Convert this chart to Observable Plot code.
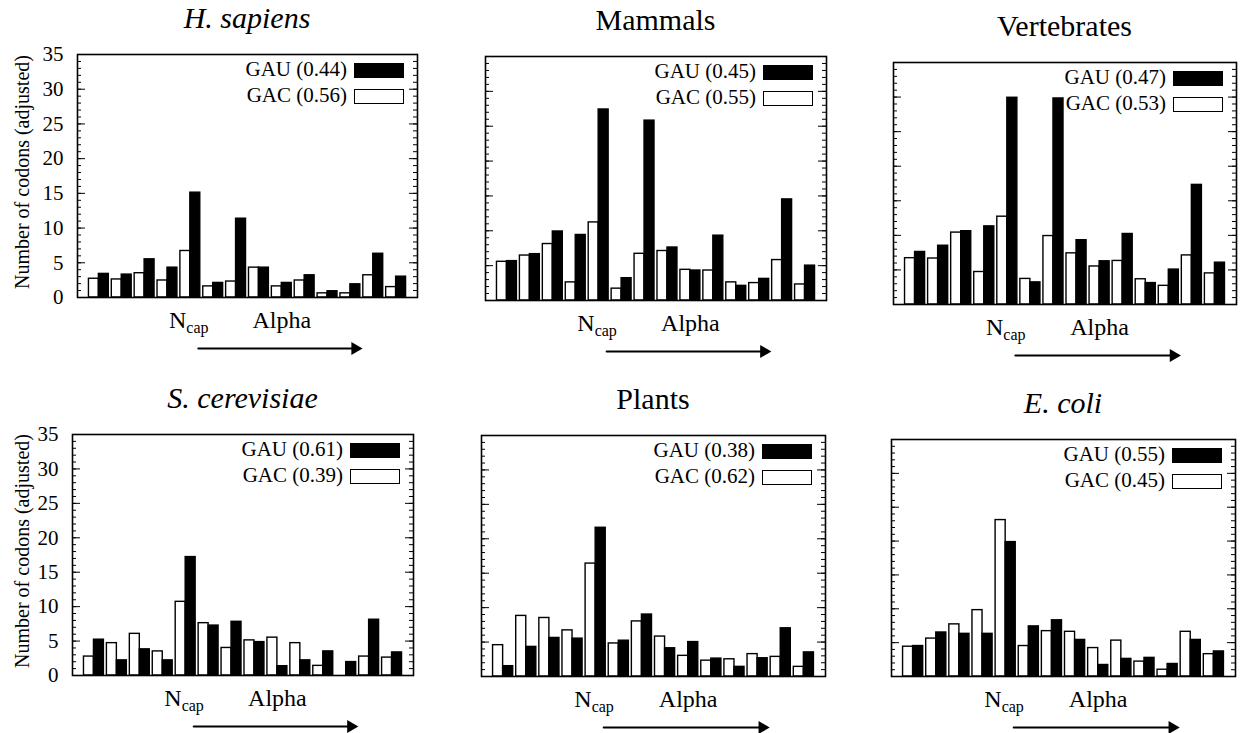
<!DOCTYPE html>
<html><head><meta charset="utf-8">
<script src="https://cdn.jsdelivr.net/npm/d3@7"></script>
<script src="https://cdn.jsdelivr.net/npm/@observablehq/plot@0.6"></script>
<style>
body{margin:0;background:#fff;}
#wrap{position:relative;width:1248px;height:733px;overflow:hidden;color:#000;background:#fff;}
#wrap, #wrap *{font-family:"Liberation Serif","Times New Roman",serif !important;}
#wrap svg{position:absolute;overflow:visible;background:transparent;}
.t{position:absolute;white-space:nowrap;line-height:1;}
.box{position:absolute;box-sizing:border-box;border:1.5px solid #000;}
</style></head>
<body><div id="wrap"></div>
<script>
// ---- data ----
const positions = d3.range(1, 15);
const titles = ["H. sapiens", "Mammals", "Vertebrates", "S. cerevisiae", "Plants", "E. coli"];
const italicTitle = [true, false, false, true, false, true];
const gauShare = ["0.44", "0.45", "0.47", "0.61", "0.38", "0.55"];
const gacShare = ["0.56", "0.55", "0.53", "0.39", "0.62", "0.45"];
const yTicks = [0, 5, 10, 15, 20, 25, 30, 35];
const yLabel = "Number of codons (adjusted)";
const ncapPos = 5, alphaPos = 9, arrowFrom = 5, arrowTo = 12;

const gacHS = [2.7, 2.6, 3.5, 2.45, 6.7, 1.6, 2.3, 4.3, 1.6, 2.45, 0.6, 0.6, 3.2, 1.5];
const gauHS = [3.4, 3.3, 5.5, 4.3, 15.1, 2.1, 11.35, 4.3, 2.1, 3.2, 0.9, 1.9, 6.3, 3.0];
const gacMam = [5.55, 6.45, 8.1, 2.6, 11.2, 1.7, 6.7, 7.1, 4.4, 4.3, 2.6, 2.5, 5.8, 2.3];
const gauMam = [5.65, 6.65, 9.9, 9.4, 27.4, 3.2, 25.8, 7.6, 4.3, 9.3, 2.1, 3.1, 14.5, 5.0];
const gacVert = [6.7, 6.65, 10.4, 4.7, 12.7, 3.7, 9.9, 7.4, 5.5, 6.3, 3.65, 2.7, 7.1, 4.5];
const gauVert = [7.6, 8.5, 10.6, 11.3, 29.9, 3.2, 29.8, 9.3, 6.25, 10.2, 3.1, 5.05, 17.3, 6.05];
const gacSC = [2.75, 4.7, 6.05, 3.5, 10.7, 7.6, 4.0, 5.1, 5.5, 4.7, 1.4, 0, 2.75, 2.6];
const gauSC = [5.2, 2.2, 3.8, 2.2, 17.2, 7.25, 7.8, 4.85, 1.35, 2.2, 3.5, 1.95, 8.1, 3.35];
const gacPl = [4.55, 8.8, 8.5, 6.7, 16.4, 4.8, 8.0, 5.8, 3.0, 2.3, 2.5, 3.25, 2.85, 1.4];
const gauPl = [1.5, 4.3, 5.6, 5.5, 21.6, 5.2, 9.0, 4.1, 5.0, 2.6, 1.4, 2.65, 7.0, 3.5];
const gacEc = [4.4, 5.6, 7.7, 9.8, 23.1, 4.5, 6.7, 6.6, 4.2, 5.3, 2.2, 1.0, 6.6, 3.3];
const gauEc = [4.5, 6.5, 6.3, 6.3, 19.85, 7.4, 8.3, 5.4, 1.7, 2.6, 2.75, 1.85, 5.4, 3.7];

const gacAll = [gacHS, gacMam, gacVert, gacSC, gacPl, gacEc];
const gauAll = [gauHS, gauMam, gauVert, gauSC, gauPl, gauEc];

// ---- layout (frame boxes: left, top, right, bottom) ----
const frames = [
  [77, 54, 417, 297], [485, 56, 826, 300], [893, 62, 1236, 304],
  [72, 434, 413, 675], [481, 435, 825, 676], [891, 439, 1235, 676]
];
const FONT = '"Liberation Serif", "Times New Roman", serif';
const wrap = document.getElementById("wrap");

function addText(str, x, baseline, size, anchor, italic) {
  const d = document.createElement("div");
  d.className = "t";
  d.textContent = str;
  d.style.fontFamily = FONT;
  d.style.fontSize = size + "px";
  d.style.fontStyle = italic ? "italic" : "normal";
  const asc = (size - size * 1.107) / 2 + size * 0.891;
  d.style.top = (baseline - asc) + "px";
  wrap.appendChild(d);
  const w = d.getBoundingClientRect().width;
  d.style.left = (anchor === "middle" ? x - w / 2 : anchor === "end" ? x - w : x) + "px";
  return d;
}

const minor = d3.range(0, 36);
const major = yTicks;
const PAD_IN = 0.13, PAD_OUT = 0.5;

frames.forEach(([L, T, R, B], i) => {
  const fw = R - L, fh = B - T;
  const mL = 70, mR = 14, mT = 14, mB = 74;
  const step = fw / (positions.length - PAD_IN + 2 * PAD_OUT);
  const half = step * (1 - PAD_IN) / 2;
  const data = positions.map((p, j) => ({pos: p, gac: gacAll[i][j], gau: gauAll[i][j]}));
  const left = i % 3 === 0;
  const marks = [
    Plot.barY(data, {x: "pos", y: "gac", fill: "white", stroke: "black", strokeWidth: 1.4, insetRight: half}),
    Plot.barY(data, {x: "pos", y: "gau", fill: "black", stroke: "black", strokeWidth: 1.4, insetLeft: half}),
    Plot.tickY(minor, {y: d => d, insetRight: fw - 4, stroke: "black", strokeWidth: 1}),
    Plot.tickY(major, {y: d => d, insetRight: fw - 8, stroke: "black", strokeWidth: 1}),
    Plot.tickY(minor, {y: d => d, insetLeft: fw - 4, stroke: "black", strokeWidth: 1}),
    Plot.tickY(major, {y: d => d, insetLeft: fw - 8, stroke: "black", strokeWidth: 1}),
    Plot.frame({stroke: "black", strokeWidth: 1.6}),
    Plot.text([ncapPos], {x: d => d, text: () => "N", frameAnchor: "bottom", lineAnchor: "bottom", dy: 30, dx: -4, textAnchor: "end", fontSize: 24, fill: "black"}),
    Plot.text([ncapPos], {x: d => d, text: () => "cap", frameAnchor: "bottom", lineAnchor: "bottom", dy: 35, dx: -4, textAnchor: "start", fontSize: 16, fill: "black"}),
    Plot.text([alphaPos], {x: d => d, text: () => "Alpha", frameAnchor: "bottom", lineAnchor: "bottom", dy: 30, textAnchor: "middle", fontSize: 24, fill: "black"}),
    Plot.arrow([{a: arrowFrom, b: arrowTo}], {x1: "a", x2: "b", y1: () => 0, y2: () => 0, dy: 51, headLength: 0, insetStart: 8, insetEnd: -2, stroke: "black", strokeWidth: 2}),
    Plot.dot([arrowTo], {x: d => d, y: () => 0, dy: 51, dx: 4.7, symbol: "triangle", rotate: 90, r: 4.8, fill: "black", stroke: "none"})
  ];
  if (left) marks.push(Plot.axisY({anchor: "left", ticks: yTicks, tickSize: 0, tickPadding: 14, label: null, fontSize: 21}));
  const svg = Plot.plot({
    width: fw + mL + mR, height: fh + mT + mB,
    marginLeft: mL, marginRight: mR, marginTop: mT, marginBottom: mB,
    style: {fontFamily: FONT, fontSize: "21px", color: "black", background: "transparent", overflow: "visible"},
    x: {type: "band", domain: positions, paddingInner: PAD_IN, paddingOuter: PAD_OUT, round: false, axis: null},
    y: {domain: [0, 35], axis: null},
    marks
  });
  svg.querySelectorAll("text").forEach(t => t.style.fontFamily = FONT);
  svg.style.left = (L - mL) + "px";
  svg.style.top = (T - mT) + "px";
  wrap.appendChild(svg);

  // title
  addText(titles[i], (L + R) / 2, T - 26, 30, "middle", italicTitle[i]);
  // legend
  const bw = 50, bh = 15, bx = R - 13 - bw;
  [["GAU (" + gauShare[i] + ")", "black"], ["GAC (" + gacShare[i] + ")", "white"]].forEach(([lab, col], r) => {
    const by = T + 9 + r * 26;
    const b = document.createElement("div");
    b.className = "box";
    Object.assign(b.style, {left: bx + "px", top: by + "px", width: bw + "px", height: bh + "px", background: col});
    wrap.appendChild(b);
    addText(lab, bx - 7, by + bh - 1, 21, "end", false);
  });
  // y label
  if (left) {
    const d = document.createElement("div");
    d.className = "t";
    d.textContent = yLabel;
    d.style.fontFamily = FONT;
    d.style.fontSize = "20px";
    wrap.appendChild(d);
    const w = d.getBoundingClientRect().width, h = d.getBoundingClientRect().height;
    d.style.left = (22 - w / 2) + "px";
    d.style.top = ((T + B) / 2 - 4 - h / 2) + "px";
    d.style.transform = "rotate(-90deg)";
  }
});
</script></body></html>
